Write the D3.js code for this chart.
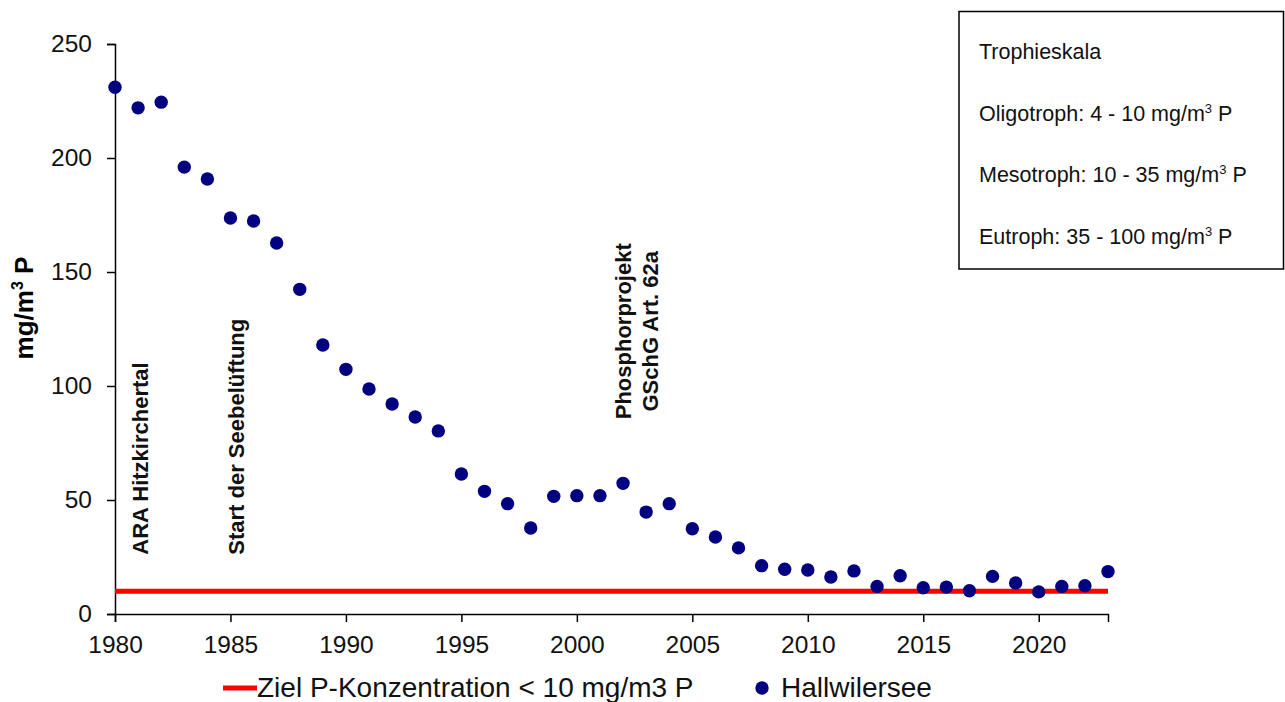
<!DOCTYPE html>
<html>
<head>
<meta charset="utf-8">
<script src="https://cdn.jsdelivr.net/npm/d3@7"></script>
<style>
  body { margin: 0; background: #fff; }
  svg { display: block; font-family: "Liberation Sans", Arial, sans-serif; }
  .tick text { font-family: "Liberation Sans", Arial, sans-serif; font-size: 24.5px; }
</style>
</head>
<body>
<svg id="chart" width="1285" height="702"></svg>
<script>
// data
const years = d3.range(1980, 2024);
const phosphor = [231, 222, 224.5, 196, 190.8, 173.7, 172.4, 162.7, 142.4, 118,
  107.3, 98.7, 92.1, 86.4, 80.3, 61.4, 53.8, 48.4, 37.7, 51.6,
  51.9, 51.9, 57.3, 44.7, 48.4, 37.4, 33.8, 29, 21.2, 19.6,
  19.3, 16.2, 18.9, 12.1, 16.8, 11.5, 11.8, 10.2, 16.5, 13.6,
  9.7, 12.1, 12.4, 18.6];
const target = 10;
const yTicks = [0, 50, 100, 150, 200, 250];
const xTicks = [1980, 1985, 1990, 1995, 2000, 2005, 2010, 2015, 2020];
const events = [
  { year: 1981.43, at: 26, anchor: "start", lines: ["ARA Hitzkirchertal"] },
  { year: 1985.6, at: 26, anchor: "start", lines: ["Start der Seebelüftung"] },
  { year: 2002.35, at: 124, anchor: "middle", lines: ["Phosphorprojekt", "GSchG Art. 62a"] }
];
const trophie = [
  { label: "Trophieskala", sup: false },
  { label: "Oligotroph: 4 - 10 mg/m", sup: true },
  { label: "Mesotroph: 10 - 35  mg/m", sup: true },
  { label: "Eutroph: 35 - 100 mg/m", sup: true }
];

const svg = d3.select("#chart");
const margin = { top: 44, left: 115, right: 177, bottom: 88 };
const width = 1285, height = 702;

const x = d3.scaleLinear().domain([1980, 2023]).range([margin.left, width - margin.right]);
const y = d3.scaleLinear().domain([0, 250]).range([height - margin.bottom, margin.top]);

// axes
const yAxis = svg.append("g")
  .attr("transform", `translate(${margin.left},0)`)
  .call(d3.axisLeft(y).tickValues(yTicks).tickSize(8).tickPadding(15));
const xAxis = svg.append("g")
  .attr("transform", `translate(0,${y(0)})`)
  .call(d3.axisBottom(x).tickValues(xTicks).tickFormat(d3.format("d")).tickSize(8).tickPadding(11));

[yAxis, xAxis].forEach(g => {
  g.attr("font-family", null).attr("font-size", null);
  g.select(".domain").attr("stroke", "#000").attr("stroke-width", 1.5);
  g.selectAll(".tick line").attr("stroke", "#000").attr("stroke-width", 1.5);
  g.selectAll(".tick text").attr("fill", "#111");
});
xAxis.selectAll(".tick text").attr("dy", "0.8em");

// superscript helper: raise the "3", then drop back to the baseline
function unit(t, supSize, rise) {
  t.append("tspan").text("3").attr("dy", -rise).style("font-size", supSize + "px");
  t.append("tspan").text(" P").attr("dy", rise);
}

// y title
svg.append("text")
  .attr("transform", `translate(33,${(y(0) + y(250)) / 2 - 21}) rotate(-90)`)
  .attr("text-anchor", "middle")
  .style("font-size", "26px").style("font-weight", "bold")
  .call(t => {
    t.append("tspan").text("mg/m");
    unit(t, 16, 10);
  });

// target line
svg.append("line")
  .attr("x1", x(1980)).attr("x2", x(2023))
  .attr("y1", y(target)).attr("y2", y(target))
  .attr("stroke", "#ff0000").attr("stroke-width", 5);

// event labels
events.forEach(e => {
  e.lines.forEach((l, i) => {
    svg.append("text")
      .attr("transform", `translate(${x(e.year) + i * 27},${y(e.at)}) rotate(-90)`)
      .attr("text-anchor", e.anchor)
      .style("font-size", "22px").style("font-weight", "bold")
      .attr("fill", "#111")
      .text(l);
  });
});

// points
svg.append("g")
  .selectAll("circle")
  .data(years.map((yr, i) => ({ yr, v: phosphor[i] })))
  .join("circle")
  .attr("cx", d => x(d.yr))
  .attr("cy", d => y(d.v))
  .attr("r", 6.7)
  .attr("fill", "#000080");

// legend
const leg = svg.append("g").attr("transform", "translate(0,688)");
leg.append("line").attr("x1", 223).attr("x2", 257).attr("y1", 0).attr("y2", 0)
  .attr("stroke", "#ff0000").attr("stroke-width", 5);
leg.append("text").attr("x", 257).attr("y", 9).style("font-size", "28px").attr("fill", "#111")
  .text("Ziel P-Konzentration < 10 mg/m3 P");
leg.append("circle").attr("cx", 762).attr("cy", 0).attr("r", 6.7).attr("fill", "#000080");
leg.append("text").attr("x", 781).attr("y", 9).style("font-size", "28px").attr("fill", "#111")
  .text("Hallwilersee");

// Trophieskala box
const box = svg.append("g");
box.append("rect").attr("x", 959).attr("y", 11.5).attr("width", 324.5).attr("height", 257.5)
  .attr("fill", "#fff").attr("stroke", "#000").attr("stroke-width", 1.5);
trophie.forEach((d, i) => {
  const t = box.append("text").attr("x", 979).attr("y", 59 + i * 61.7)
    .style("font-size", "21.5px").attr("fill", "#111");
  t.append("tspan").text(d.label);
  if (d.sup) unit(t, 13, 8);
});
</script>
</body>
</html>
